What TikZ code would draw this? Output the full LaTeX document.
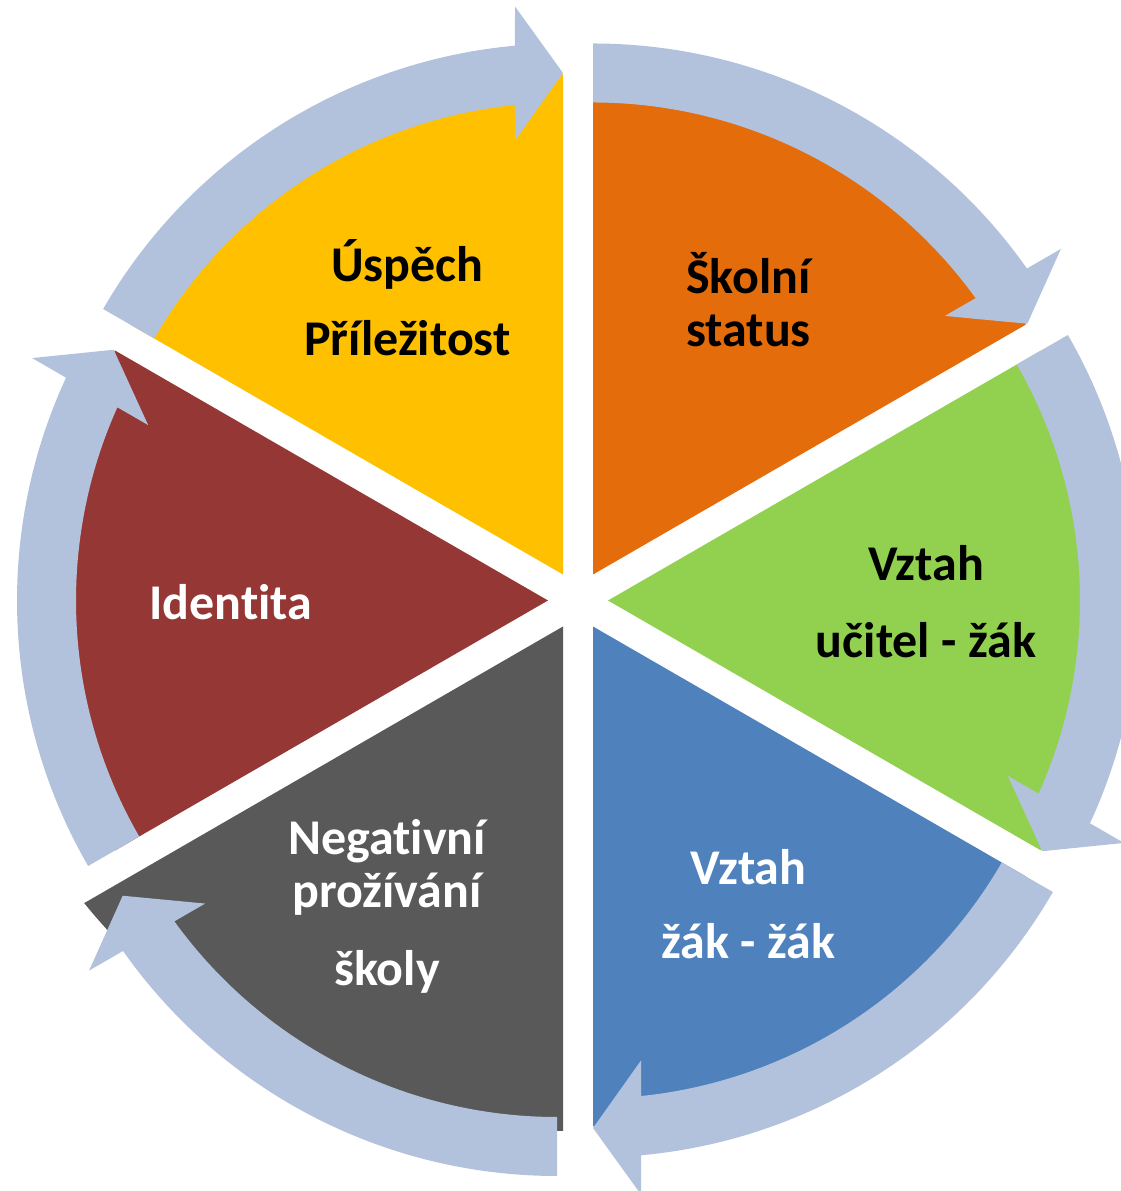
\documentclass[tikz,border=0pt]{standalone}
\usepackage{fontspec}
\setmainfont{Carlito}[Ligatures=NoCommon]
\usepackage{tikz}
\definecolor{segYellow}{RGB}{255,192,0}
\definecolor{segOrange}{RGB}{228,108,10}
\definecolor{segGreen}{RGB}{146,208,80}
\definecolor{segBlue}{RGB}{79,129,189}
\definecolor{segGray}{RGB}{89,89,89}
\definecolor{segRed}{RGB}{149,55,53}
\definecolor{ringBlue}{RGB}{179,194,220}
\tikzset{
wedge/.pic={\fill[#1] (0,0) -- (60:500pt) arc[start angle=60,end angle=0,radius=500pt] -- cycle;},
ringarrow/.pic={\fill[ringBlue] (60:531pt) arc[start angle=60,end angle=5.19,radius=531pt]
    -- (568pt,48pt) -- (501.5pt,0pt) -- (434pt,48pt)
    -- (5.84:472pt) arc[start angle=5.84,end angle=60,radius=472pt] -- cycle;},
lbl/.style={align=center, anchor=base, inner sep=0pt,
    font=\fontsize{50pt}{53pt}\selectfont\bfseries}}

\begin{document}
\begin{tikzpicture}[x=1pt,y=1pt]
    \useasboundingbox (0,0) rectangle (1120,1191);

    \coordinate (cY) at (563,616.5);
    \coordinate (cO) at (593,616.5);
    \coordinate (cG) at (608,590.5);
    \coordinate (cB) at (593,564.5);
    \coordinate (cK) at (563,564.5);
    \coordinate (cR) at (548,590.5);
    \coordinate (aK) at (557,546);

    \pic[rotate=90] at (cY) {wedge=segYellow};
    \pic[rotate=30] at (cO) {wedge=segOrange};
    \pic[rotate=-30] at (cG) {wedge=segGreen};
    \pic[rotate=-90] at (cB) {wedge=segBlue};
    \fill[segGray] (cK) -- (563,60) arc[start angle=-90,end angle=-140.9,radius=617pt] -- cycle;
    \pic[rotate=150] at (cR) {wedge=segRed};

    \pic[rotate=90] at (cY) {ringarrow};
    \pic[rotate=30] at (cO) {ringarrow};
    \pic[rotate=-30] at (cG) {ringarrow};
    \pic[rotate=-90] at (cB) {ringarrow};
    \pic[rotate=-150] at (aK) {ringarrow};
    \pic[rotate=150] at (cR) {ringarrow};

    \node[lbl, text=black] (A) at (407.5,835) {Úspěch\\[21pt]Příležitost};
    \node[lbl, text=black, align=left, anchor=base west] (B) at (686,844) {Školní\\status};
    \node[lbl, text=black] (C) at (926,533) {Vztah\\[24pt]učitel - žák};
    \node[lbl, text=white] (D) at (748.5,232) {Vztah\\[21pt]žák - žák};
    \node[lbl, text=white] (E) at (387,205) {Negativní\\prožívání\\[25pt]školy};
    \node[lbl, text=white] (F) at (231,571) {Identita};

\end{tikzpicture}
\end{document}
